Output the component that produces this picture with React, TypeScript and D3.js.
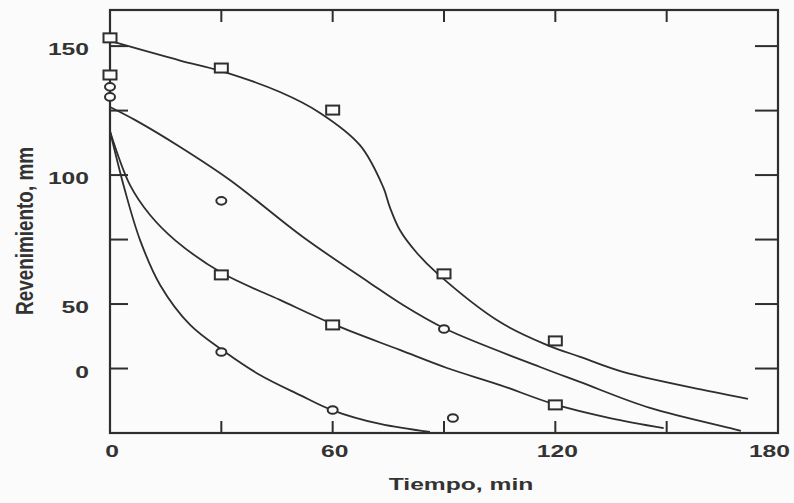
import React from "react";
import * as d3 from "d3";

const W = 794;
const H = 503;

const xTicks = [30, 60, 90, 120, 150];
const xTickLabels = [
  { t: 0, label: "0" },
  { t: 60, label: "60" },
  { t: 120, label: "120" },
  { t: 180, label: "180" },
];
const yTicks = [25, 50, 75, 100, 125, 150];
const yTickLabels = [
  { v: 150, label: "150" },
  { v: 100, label: "100" },
  { v: 50, label: "50" },
  { v: 25, label: "0" },
];

// curves: [time (min), value]
const curveA: [number, number][] = [
  [0, 152], [18.9, 144.4], [30, 140.3], [45.8, 132.2], [56.6, 124.1], [67.4, 111.5],
  [73.6, 95.4], [75.4, 87.6], [78.1, 78.7], [82.7, 69.8], [88.1, 62.0], [105.1, 43.0],
  [117.8, 34.1], [126.7, 29.5], [138.2, 23.7], [162.5, 15.9], [171.9, 13.2],
];
const curveB: [number, number][] = [
  [0, 126.4], [6.7, 121.4], [18.9, 110.9], [32.3, 98.1], [52, 76.0], [70, 58.2],
  [78.1, 50.4], [90.5, 40.3], [115.9, 25.6], [126.6, 19.8], [145.5, 9.7], [167.9, 1.6], [170, 0.8],
];
const curveC: [number, number][] = [
  [0, 117], [5.4, 96.1], [10.8, 84.5], [17.5, 74.8], [30.2, 62.0], [45.8, 51.6],
  [60.6, 41.9], [78.1, 32.2], [90.8, 25.2], [105.1, 18.6], [119.6, 11.2], [134.7, 5.8], [149.2, 1.9],
];
const curveD: [number, number][] = [
  [0, 117], [4.0, 94.2], [8.1, 74.8], [13.5, 57.4], [21.6, 41.9], [31.0, 31.4],
  [40.4, 22.5], [51.2, 14.7], [59.8, 8.9], [72.8, 3.5], [86.2, 0.4],
];
const curves = [curveA, curveB, curveC, curveD];

const squareMarkers: [number, number][] = [
  [0, 153.2], [0, 138.8], [30, 141.5], [60, 125.2], [30, 61.3], [60, 41.9],
  [90, 61.7], [120, 35.7], [120, 10.9],
];
const circleMarkers: [number, number][] = [
  [0, 134.2], [0, 130.3], [30, 90.0], [90, 40.3], [30, 31.4], [60, 8.9], [92.4, 5.8],
];

const ML = 110, MR = 778, MT = 10, MB = 433;
const INK = "#2e2e2e";
const SX = 1.45;

export default function App() {
  const x = d3.scaleLinear().domain([0, 180]).range([ML, MR]);
  const y = d3.scaleLinear().domain([0, 164]).range([MB, MT]);
  const line = d3
    .line<[number, number]>()
    .x((d) => x(d[0]))
    .y((d) => y(d[1]))
    .curve(d3.curveCatmullRom.alpha(0.5));

  const font = "'Liberation Sans', Arial, sans-serif";

  return (
    <svg
      width={W}
      height={H}
      style={{ position: "absolute", left: 0, top: 0 }}
      fontFamily={font}
    >
      <rect x={0} y={0} width={W} height={H} fill="#fbfbfb" />
      {curves.map((c, i) => (
        <path key={i} d={line(c) || ""} fill="none" stroke={INK} strokeWidth={1.8} />
      ))}
      <rect x={ML} y={MT} width={MR - ML} height={MB - MT} fill="none" stroke={INK} strokeWidth={2.2} />
      {xTicks.map((t) => (
        <g key={"xt" + t}>
          <line x1={x(t)} x2={x(t)} y1={MB} y2={MB - 12} stroke={INK} strokeWidth={2} />
          <line x1={x(t)} x2={x(t)} y1={MT} y2={MT + 12} stroke={INK} strokeWidth={2} />
        </g>
      ))}
      {yTicks.map((v) => (
        <g key={"yt" + v}>
          <line x1={ML} x2={ML + 18} y1={y(v)} y2={y(v)} stroke={INK} strokeWidth={2} />
          <line x1={MR} x2={MR - 23} y1={y(v)} y2={y(v)} stroke={INK} strokeWidth={2} />
        </g>
      ))}
      {squareMarkers.map((d, i) => (
        <rect
          key={"s" + i}
          x={x(d[0]) - 6.5}
          y={y(d[1]) - 4.5}
          width={13}
          height={9}
          fill="#fbfbfb"
          stroke={INK}
          strokeWidth={2}
        />
      ))}
      {circleMarkers.map((d, i) => (
        <ellipse
          key={"c" + i}
          cx={x(d[0])}
          cy={y(d[1])}
          rx={5}
          ry={3.8}
          fill="#fbfbfb"
          stroke={INK}
          strokeWidth={2}
        />
      ))}
      {xTickLabels.map((d, i) => {
        const last = i === xTickLabels.length - 1;
        return (
          <g key={"xl" + d.t} transform={`translate(${last ? 790 : x(d.t) + 2},457) scale(${SX},1)`}>
            <text textAnchor={last ? "end" : "middle"} fontSize={17} fontWeight="bold" fill="#333">
              {d.label}
            </text>
          </g>
        );
      })}
      {yTickLabels.map((d) => (
        <g key={"yl" + d.v} transform={`translate(89,${y(d.v) + 9}) scale(${SX},1)`}>
          <text textAnchor="end" fontSize={17} fontWeight="bold" fill="#333">
            {d.label}
          </text>
        </g>
      ))}
      <g transform={`translate(461,490) scale(${SX},1)`}>
        <text textAnchor="middle" fontSize={17} fontWeight="bold" fill="#333">
          Tiempo, min
        </text>
      </g>
      <g transform={`translate(33,231) scale(${SX},1) rotate(-90)`}>
        <text
          textAnchor="middle"
          fontSize={17}
          fontWeight="bold"
          fill="#333"
          textLength={168}
          lengthAdjust="spacingAndGlyphs"
        >
          Revenimiento, mm
        </text>
      </g>
    </svg>
  );
}
